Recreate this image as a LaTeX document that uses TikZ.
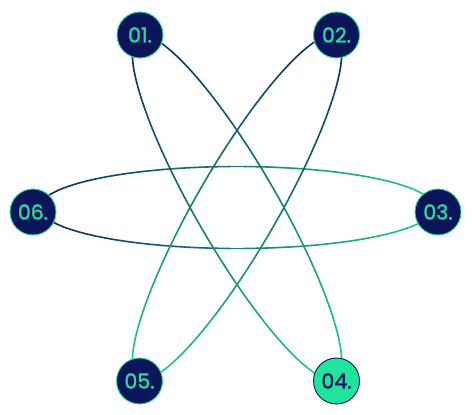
\documentclass[tikz,border=0pt]{standalone}
\usepackage{fontspec}
\setmainfont{Poppins}
\newfontfamily\numfont{Poppins}[FakeBold=1.6]
\definecolor{myNavy}{HTML}{0A1659}
\definecolor{myMint}{HTML}{2ED6A2}
\definecolor{myGreen}{HTML}{1EE49C}
\definecolor{lnDark}{HTML}{0C2A62}
\definecolor{lnGreen}{HTML}{20D08E}
\tikzset{
  stepnode/.style={circle, minimum size=46pt, inner sep=0pt, fill=myNavy, draw=myMint, line width=0.9pt,
    text=myMint, font=\numfont\fontsize{20.5}{24}\selectfont},
  hinode/.style={stepnode, fill=myGreen, draw=myNavy, text=myNavy},
  ring/.style={line width=1.6pt, line cap=round, draw=segcol}
}
\begin{document}
\begin{tikzpicture}[x=1pt,y=-1pt]
\useasboundingbox (0,0) rectangle (472,415);
\foreach \rot in {180,60,120}{
  \begin{scope}[shift={(237,207.5)},rotate=\rot]
    \foreach \t in {0,4,...,356}{
      \pgfmathsetmacro\p{50*(1-cos(\t+2))}
      \colorlet{segcol}{lnGreen!\p!lnDark}
      \draw[ring] ({197*cos(\t)},{41*sin(\t)}) -- ({197*cos(\t+4)},{41*sin(\t+4)});
    }
  \end{scope}
}
\node[stepnode] (n1) at (140,35) {01.};
\node[stepnode] (n2) at (336.5,35) {02.};
\node[stepnode] (n3) at (438,212) {03.};
\node[hinode]   (n4) at (336.5,381) {04.};
\node[stepnode] (n5) at (139.5,381) {05.};
\node[stepnode] (n6) at (33,212) {06.};
\end{tikzpicture}
\end{document}
